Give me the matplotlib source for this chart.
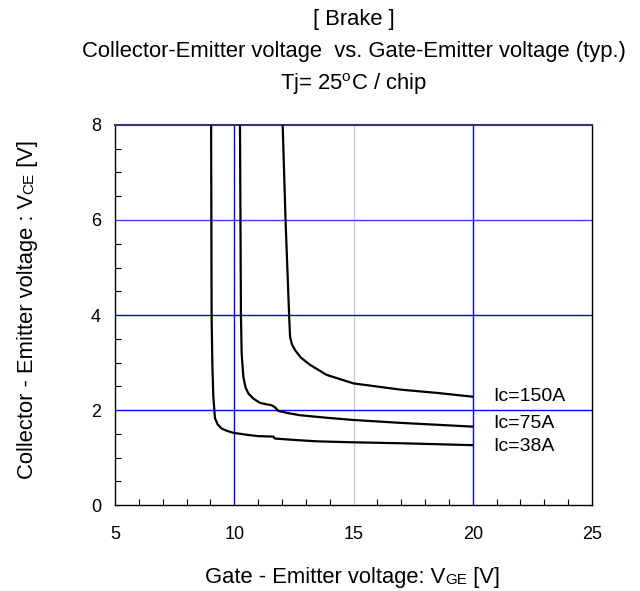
import numpy as np
import matplotlib
matplotlib.use('Agg')
import matplotlib.pyplot as plt
from matplotlib.ticker import MultipleLocator

plt.rcParams['font.family'] = ['Liberation Sans', 'DejaVu Sans']

# curve data (VGE [V], VCE [V])
vge_38 = [9.03, 9.04, 9.05, 9.08, 9.12, 9.19, 9.3, 9.47, 9.7, 9.96, 10.5, 11.0, 11.64, 11.7, 12.5, 13.5, 15.0, 17.0, 20.0]
vce_38 = [8.0, 6.0, 4.0, 3.0, 2.3, 1.83, 1.7, 1.61, 1.56, 1.52, 1.48, 1.45, 1.44, 1.40, 1.37, 1.34, 1.32, 1.30, 1.26]

vge_75 = [10.24, 10.26, 10.28, 10.31, 10.38, 10.47, 10.59, 10.8, 11.08, 11.35, 11.57, 11.7, 11.85, 12.3, 12.76, 13.8, 15.0, 16.95, 20.0]
vce_75 = [8.0, 6.0, 4.0, 3.2, 2.70, 2.48, 2.35, 2.24, 2.15, 2.12, 2.10, 2.06, 1.98, 1.93, 1.89, 1.84, 1.79, 1.73, 1.65]

vge_150 = [12.03, 12.15, 12.3, 12.34, 12.42, 12.55, 12.8, 13.18, 13.87, 15.0, 16.95, 18.5, 20.0]
vce_150 = [8.0, 6.0, 4.0, 3.54, 3.38, 3.26, 3.1, 2.95, 2.74, 2.56, 2.43, 2.36, 2.28]

curve_labels = ['Ic=150A', 'Ic=75A', 'Ic=38A']
label_y = [2.28, 1.72, 1.23]

fig = plt.figure(figsize=(6.4, 5.91), dpi=100)
ax = fig.add_axes([0.1797, 0.1455, 0.7453, 0.643])

ax.set_xlim(5, 25)
ax.set_ylim(0, 8)
ax.xaxis.set_major_locator(MultipleLocator(5))
ax.xaxis.set_minor_locator(MultipleLocator(1))
ax.yaxis.set_major_locator(MultipleLocator(2))
ax.yaxis.set_minor_locator(MultipleLocator(0.5))
ax.tick_params(which='both', direction='in', labelsize=13, pad=10)
ax.tick_params(which='major', length=0)
ax.tick_params(which='minor', length=4, width=0.8)
ax.tick_params(axis='x', pad=15)

# grid lines
for gx, gc in [(10, '#0000ff'), (15, '#c8c8f8'), (20, '#0000ff')]:
    ax.axvline(gx, color=gc, lw=1, zorder=1)
for gy, gc in [(2, '#0000ff'), (4, '#0000dd'), (6, '#4040ff')]:
    ax.axhline(gy, color=gc, lw=1, zorder=1)

for s in ['left', 'bottom', 'right']:
    ax.spines[s].set_color('black')
    ax.spines[s].set_linewidth(1)
ax.spines['top'].set_color('#33336e')
ax.spines['top'].set_linewidth(1.5)

ax.plot(vge_38, vce_38, color='black', lw=1.6, zorder=3)
ax.plot(vge_75, vce_75, color='black', lw=1.6, zorder=3)
ax.plot(vge_150, vce_150, color='black', lw=1.6, zorder=3)

for lab, ly in zip(curve_labels, label_y):
    ax.text(20.85, ly, lab, fontsize=14, va='center', ha='left')

# titles, centred over the plot area
cx = 353.5 / 640
fig.text(cx, 1 - 20 / 591, '[ Brake ]', ha='center', va='center', fontsize=15.8)
fig.text(cx, 1 - 51 / 591, 'Collector-Emitter voltage  vs. Gate-Emitter voltage (typ.)',
         ha='center', va='center', fontsize=15.8)
fig.text(cx, 1 - 84 / 591, 'Tj= 25$^{\\mathregular{o}}$C / chip', ha='center', va='center', fontsize=15.8)

# x label with small-caps style "GE"
xb = 1 - 583.5 / 591
t1 = fig.text(205 / 640, xb, 'Gate - Emitter voltage: V', fontsize=15.8, va='baseline', ha='left')
t2 = ax.annotate('GE', xy=(1, xb), xycoords=(t1, 'figure fraction'), fontsize=11,
                 va='baseline', ha='left', annotation_clip=False)
t3 = ax.annotate(' [V]', xy=(1, xb), xycoords=(t2, 'figure fraction'), fontsize=15.8,
                 va='baseline', ha='left', annotation_clip=False)

# y label, rotated
yb = 33 / 640
u1 = fig.text(yb, 1 - 479 / 591, 'Collector - Emitter voltage : V', fontsize=15.8, rotation=90,
              rotation_mode='anchor', ha='left', va='baseline')
u2 = ax.annotate('CE', xy=(yb, 1), xycoords=('figure fraction', u1), fontsize=11, rotation=90,
                 rotation_mode='anchor', ha='left', va='baseline', annotation_clip=False)
u3 = ax.annotate(' [V]', xy=(yb, 1), xycoords=('figure fraction', u2), fontsize=15.8, rotation=90,
                 rotation_mode='anchor', ha='left', va='baseline', annotation_clip=False)

fig.savefig('out.png', dpi=100)
